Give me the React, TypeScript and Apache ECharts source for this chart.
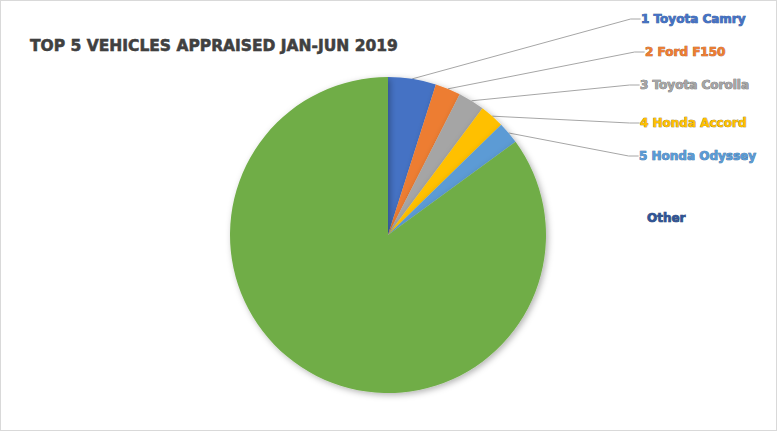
import React, { useEffect, useRef } from 'react';
import * as echarts from 'echarts';

// slice names, shares (%) and colours, clockwise from 12 o'clock
const vehicles = ['1 Toyota Camry', '2 Ford F150', '3 Toyota Corolla', '4 Honda Accord', '5 Honda Odyssey', 'Other'];
const shares = [4.9, 2.6, 2.7, 2.5, 2.25, 85.05];
const sliceColors = ['#4472C4', '#ED7D31', '#A5A5A5', '#FFC000', '#5B9BD5', '#70AD47'];
const labelColors = ['#4472C4', '#ED7D31', '#A5A5A5', '#FFC000', '#5B9BD5', '#2F5597'];
const labelEdges = ['#2B4C8C', '#A5521C', '#5E5E5E', '#8A6A00', '#2E6597', '#1F3864'];

// where each label sits (left edge, vertical middle)
const labelSpots = [
  [640, 18],
  [644, 51],
  [639, 84],
  [639, 122],
  [638, 155],
  [646, 217]
];

const TopVehiclesPie: React.FC = () => {
  const chartRef = useRef<HTMLDivElement>(null);

  useEffect(() => {
    if (!chartRef.current) return;
    document.body.style.margin = '0';

    const chart = echarts.init(chartRef.current, undefined, { renderer: 'svg' });

    const option: echarts.EChartsOption = {
      animation: false,
      backgroundColor: '#fff',
      title: {
        text: 'TOP 5 VEHICLES APPRAISED JAN-JUN 2019',
        left: 24,
        top: 32,
        textStyle: {
          fontFamily: 'DejaVu Sans',
          fontSize: 15.5,
          fontWeight: 'bold',
          color: '#404040',
          textBorderColor: '#262626',
          textBorderWidth: 0.5
        }
      },
      series: [
        {
          type: 'pie',
          center: [387, 234],
          radius: 158,
          startAngle: 90,
          clockwise: true,
          data: vehicles.map((name, i) => ({
            name,
            value: shares[i],
            itemStyle: { color: sliceColors[i] },
            label: {
              color: labelColors[i],
              textBorderColor: labelEdges[i],
              textBorderWidth: 0.7
            },
            labelLine: { show: i < 5 }
          })),
          itemStyle: {
            borderWidth: 0,
            shadowBlur: 6,
            shadowOffsetX: 2,
            shadowOffsetY: 2,
            shadowColor: 'rgba(0,0,0,0.3)'
          },
          label: {
            show: true,
            formatter: '{b}',
            fontFamily: 'DejaVu Sans',
            fontSize: 12,
            fontWeight: 'bold'
          },
          labelLine: {
            show: true,
            length: 10,
            length2: 10,
            lineStyle: { color: '#A6A6A6', width: 1 }
          },
          labelLayout: (params: any) => ({
            x: labelSpots[params.dataIndex][0],
            y: labelSpots[params.dataIndex][1],
            align: 'left',
            verticalAlign: 'middle'
          }),
          emphasis: { disabled: true }
        }
      ]
    };

    chart.setOption(option);
    return () => {
      chart.dispose();
    };
  }, []);

  return (
    <div
      ref={chartRef}
      style={{
        position: 'absolute',
        left: 0,
        top: 0,
        width: 777,
        height: 431,
        boxSizing: 'border-box',
        border: '1px solid #D9D9D9'
      }}
    />
  );
};

export default function App() {
  return <TopVehiclesPie />;
}
